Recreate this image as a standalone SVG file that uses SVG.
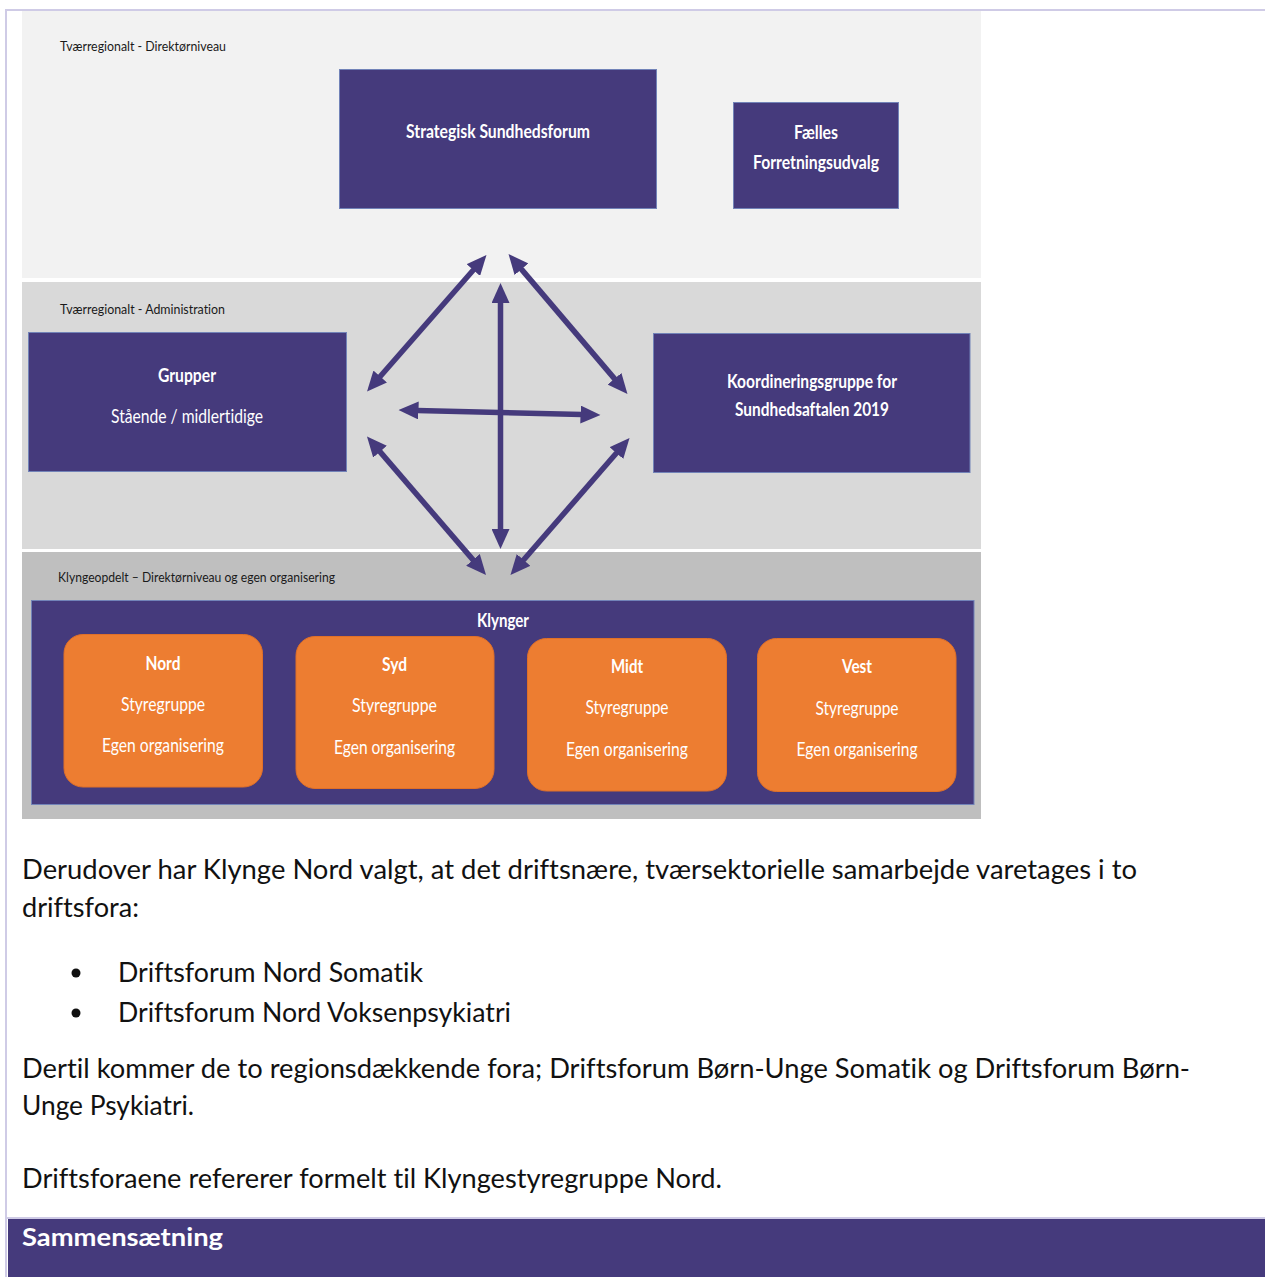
<svg xmlns="http://www.w3.org/2000/svg" width="1265" height="1277" viewBox="0 0 1265 1277">
<style>
text{font-variant-ligatures:none}
.lbl{font-family:Lato,"Open Sans",sans-serif;font-size:14px;fill:#1a1a1a}
.bt{font-family:Lato,"Open Sans",sans-serif;font-weight:bold;font-size:18px;fill:#ffffff;text-anchor:middle}
.rt{font-family:Lato,"Open Sans",sans-serif;font-size:19px;fill:#ffffff;text-anchor:middle}
.box{fill:#453a7c;stroke:#7283b8;stroke-width:1}
.org{fill:#ed7d31;stroke:#e07028;stroke-width:1}
.body{font-family:Lato,"Open Sans",sans-serif;font-size:27px;fill:#111111}
.arr{stroke:#453a7c;stroke-width:5.5;fill:none;marker-start:url(#ah);marker-end:url(#ah)}
</style>
<defs>
<marker id="ah" viewBox="0 0 20 18" markerUnits="userSpaceOnUse" markerWidth="20" markerHeight="18" refX="12" refY="9" orient="auto-start-reverse">
<path d="M0,0 L20,9 L0,18 z" fill="#453a7c"/>
</marker>
</defs>
<rect x="0" y="0" width="1265" height="1277" fill="#ffffff"/>
<!-- page borders -->
<rect x="5" y="9" width="1260" height="2" fill="#cfcbe6"/>
<rect x="5" y="9" width="2" height="1268" fill="#cfcbe6"/>
<rect x="7" y="1217" width="1258" height="2" fill="#cfcbe6"/>
<rect x="8" y="1219" width="1257" height="58" fill="#453a7c"/>
<!-- panels -->
<rect x="22" y="11" width="959" height="267" fill="#f2f2f2"/>
<rect x="22" y="282" width="959" height="267" fill="#d9d9d9"/>
<rect x="22" y="552" width="959" height="267" fill="#bfbfbf"/>
<text class="lbl" x="60" y="51" textLength="166" lengthAdjust="spacingAndGlyphs">Tværregionalt - Direktørniveau</text>
<text class="lbl" x="60" y="314" textLength="165" lengthAdjust="spacingAndGlyphs">Tværregionalt - Administration</text>
<text class="lbl" x="58" y="582" textLength="277" lengthAdjust="spacingAndGlyphs">Klyngeopdelt – Direktørniveau og egen organisering</text>

<g id="strategisk">
<rect class="box" x="339.5" y="69.5" width="317" height="139"/>
<text class="bt" x="498" y="138" textLength="184" lengthAdjust="spacingAndGlyphs">Strategisk Sundhedsforum</text>
</g>
<g id="faelles">
<rect class="box" x="733.5" y="102.5" width="165" height="106"/>
<text class="bt" x="816" y="139" textLength="44" lengthAdjust="spacingAndGlyphs">Fælles</text>
<text class="bt" x="816" y="169" textLength="126" lengthAdjust="spacingAndGlyphs">Forretningsudvalg</text>
</g>
<g id="grupper">
<rect class="box" x="28.5" y="332.5" width="318" height="139"/>
<text class="bt" x="187" y="382" textLength="58" lengthAdjust="spacingAndGlyphs">Grupper</text>
<text class="rt" x="187" y="423" textLength="152" lengthAdjust="spacingAndGlyphs">Stående / midlertidige</text>
</g>
<g id="koordinering">
<rect class="box" x="653.5" y="333.5" width="316.5" height="139"/>
<text class="bt" x="812" y="388" textLength="170" lengthAdjust="spacingAndGlyphs">Koordineringsgruppe for</text>
<text class="bt" x="812" y="416" textLength="154" lengthAdjust="spacingAndGlyphs">Sundhedsaftalen 2019</text>
</g>
<g id="klynger">
<rect class="box" x="31.5" y="600.5" width="942.5" height="204"/>
<text class="bt" x="503" y="627" textLength="52" lengthAdjust="spacingAndGlyphs">Klynger</text>
</g>
<g id="nord">
<rect class="org" x="64" y="634.5" width="198.5" height="152.5" rx="19"/>
<text class="bt" x="163" y="670" textLength="35" lengthAdjust="spacingAndGlyphs">Nord</text>
<text class="rt" x="163" y="711" textLength="84" lengthAdjust="spacingAndGlyphs">Styregruppe</text>
<text class="rt" x="163" y="752" textLength="122" lengthAdjust="spacingAndGlyphs">Egen organisering</text>
</g>
<g id="syd">
<rect class="org" x="296" y="636.5" width="198" height="152" rx="19"/>
<text class="bt" x="394.5" y="671" textLength="25" lengthAdjust="spacingAndGlyphs">Syd</text>
<text class="rt" x="394.5" y="712" textLength="85" lengthAdjust="spacingAndGlyphs">Styregruppe</text>
<text class="rt" x="394.5" y="754" textLength="121" lengthAdjust="spacingAndGlyphs">Egen organisering</text>
</g>
<g id="midt">
<rect class="org" x="527.5" y="638.5" width="199" height="152.5" rx="19"/>
<text class="bt" x="627" y="673" textLength="32" lengthAdjust="spacingAndGlyphs">Midt</text>
<text class="rt" x="627" y="714" textLength="83" lengthAdjust="spacingAndGlyphs">Styregruppe</text>
<text class="rt" x="627" y="756" textLength="122" lengthAdjust="spacingAndGlyphs">Egen organisering</text>
</g>
<g id="vest">
<rect class="org" x="757.5" y="638.5" width="198.5" height="153" rx="19"/>
<text class="bt" x="857" y="673" textLength="30" lengthAdjust="spacingAndGlyphs">Vest</text>
<text class="rt" x="857" y="715" textLength="83" lengthAdjust="spacingAndGlyphs">Styregruppe</text>
<text class="rt" x="857" y="756" textLength="121" lengthAdjust="spacingAndGlyphs">Egen organisering</text>
</g>

<g id="connectors">
<line class="arr" x1="481.2" y1="261.0" x2="372.3" y2="385.5"/>
<line class="arr" x1="513.7" y1="260.1" x2="622.3" y2="387.9"/>
<line class="arr" x1="500.5" y1="291" x2="500.5" y2="541"/>
<line class="arr" x1="406.5" y1="410.2" x2="592.5" y2="414.8"/>
<line class="arr" x1="372.2" y1="442.6" x2="480.8" y2="568.9"/>
<line class="arr" x1="624.3" y1="444.0" x2="515.7" y2="569.0"/>
</g>

<text class="body" x="22" y="879" textLength="1115" lengthAdjust="spacingAndGlyphs">Derudover  har Klynge Nord valgt, at det driftsnære,  tværsektorielle  samarbejde  varetages i to</text>
<text class="body" x="22" y="917" textLength="117" lengthAdjust="spacingAndGlyphs">driftsfora:</text>
<circle cx="76" cy="973" r="4.5" fill="#111111"/>
<text class="body" x="118" y="982" textLength="305" lengthAdjust="spacingAndGlyphs">Driftsforum  Nord Somatik</text>
<circle cx="76" cy="1013" r="4.5" fill="#111111"/>
<text class="body" x="118" y="1022" textLength="393" lengthAdjust="spacingAndGlyphs">Driftsforum  Nord Voksenpsykiatri</text>
<text class="body" x="22" y="1078" textLength="1168" lengthAdjust="spacingAndGlyphs">Dertil kommer de to regionsdækkende  fora;  Driftsforum  Børn-Unge Somatik og Driftsforum  Børn-</text>
<text class="body" x="22" y="1115" textLength="172" lengthAdjust="spacingAndGlyphs">Unge Psykiatri.</text>
<text class="body" x="22" y="1188" textLength="700" lengthAdjust="spacingAndGlyphs">Driftsforaene refererer formelt til Klyngestyregruppe  Nord.</text>
<text x="22" y="1246" font-family="Lato, 'Open Sans', sans-serif" font-weight="bold" font-size="25" fill="#ffffff" textLength="201" lengthAdjust="spacingAndGlyphs">Sammensætning</text>
</svg>
